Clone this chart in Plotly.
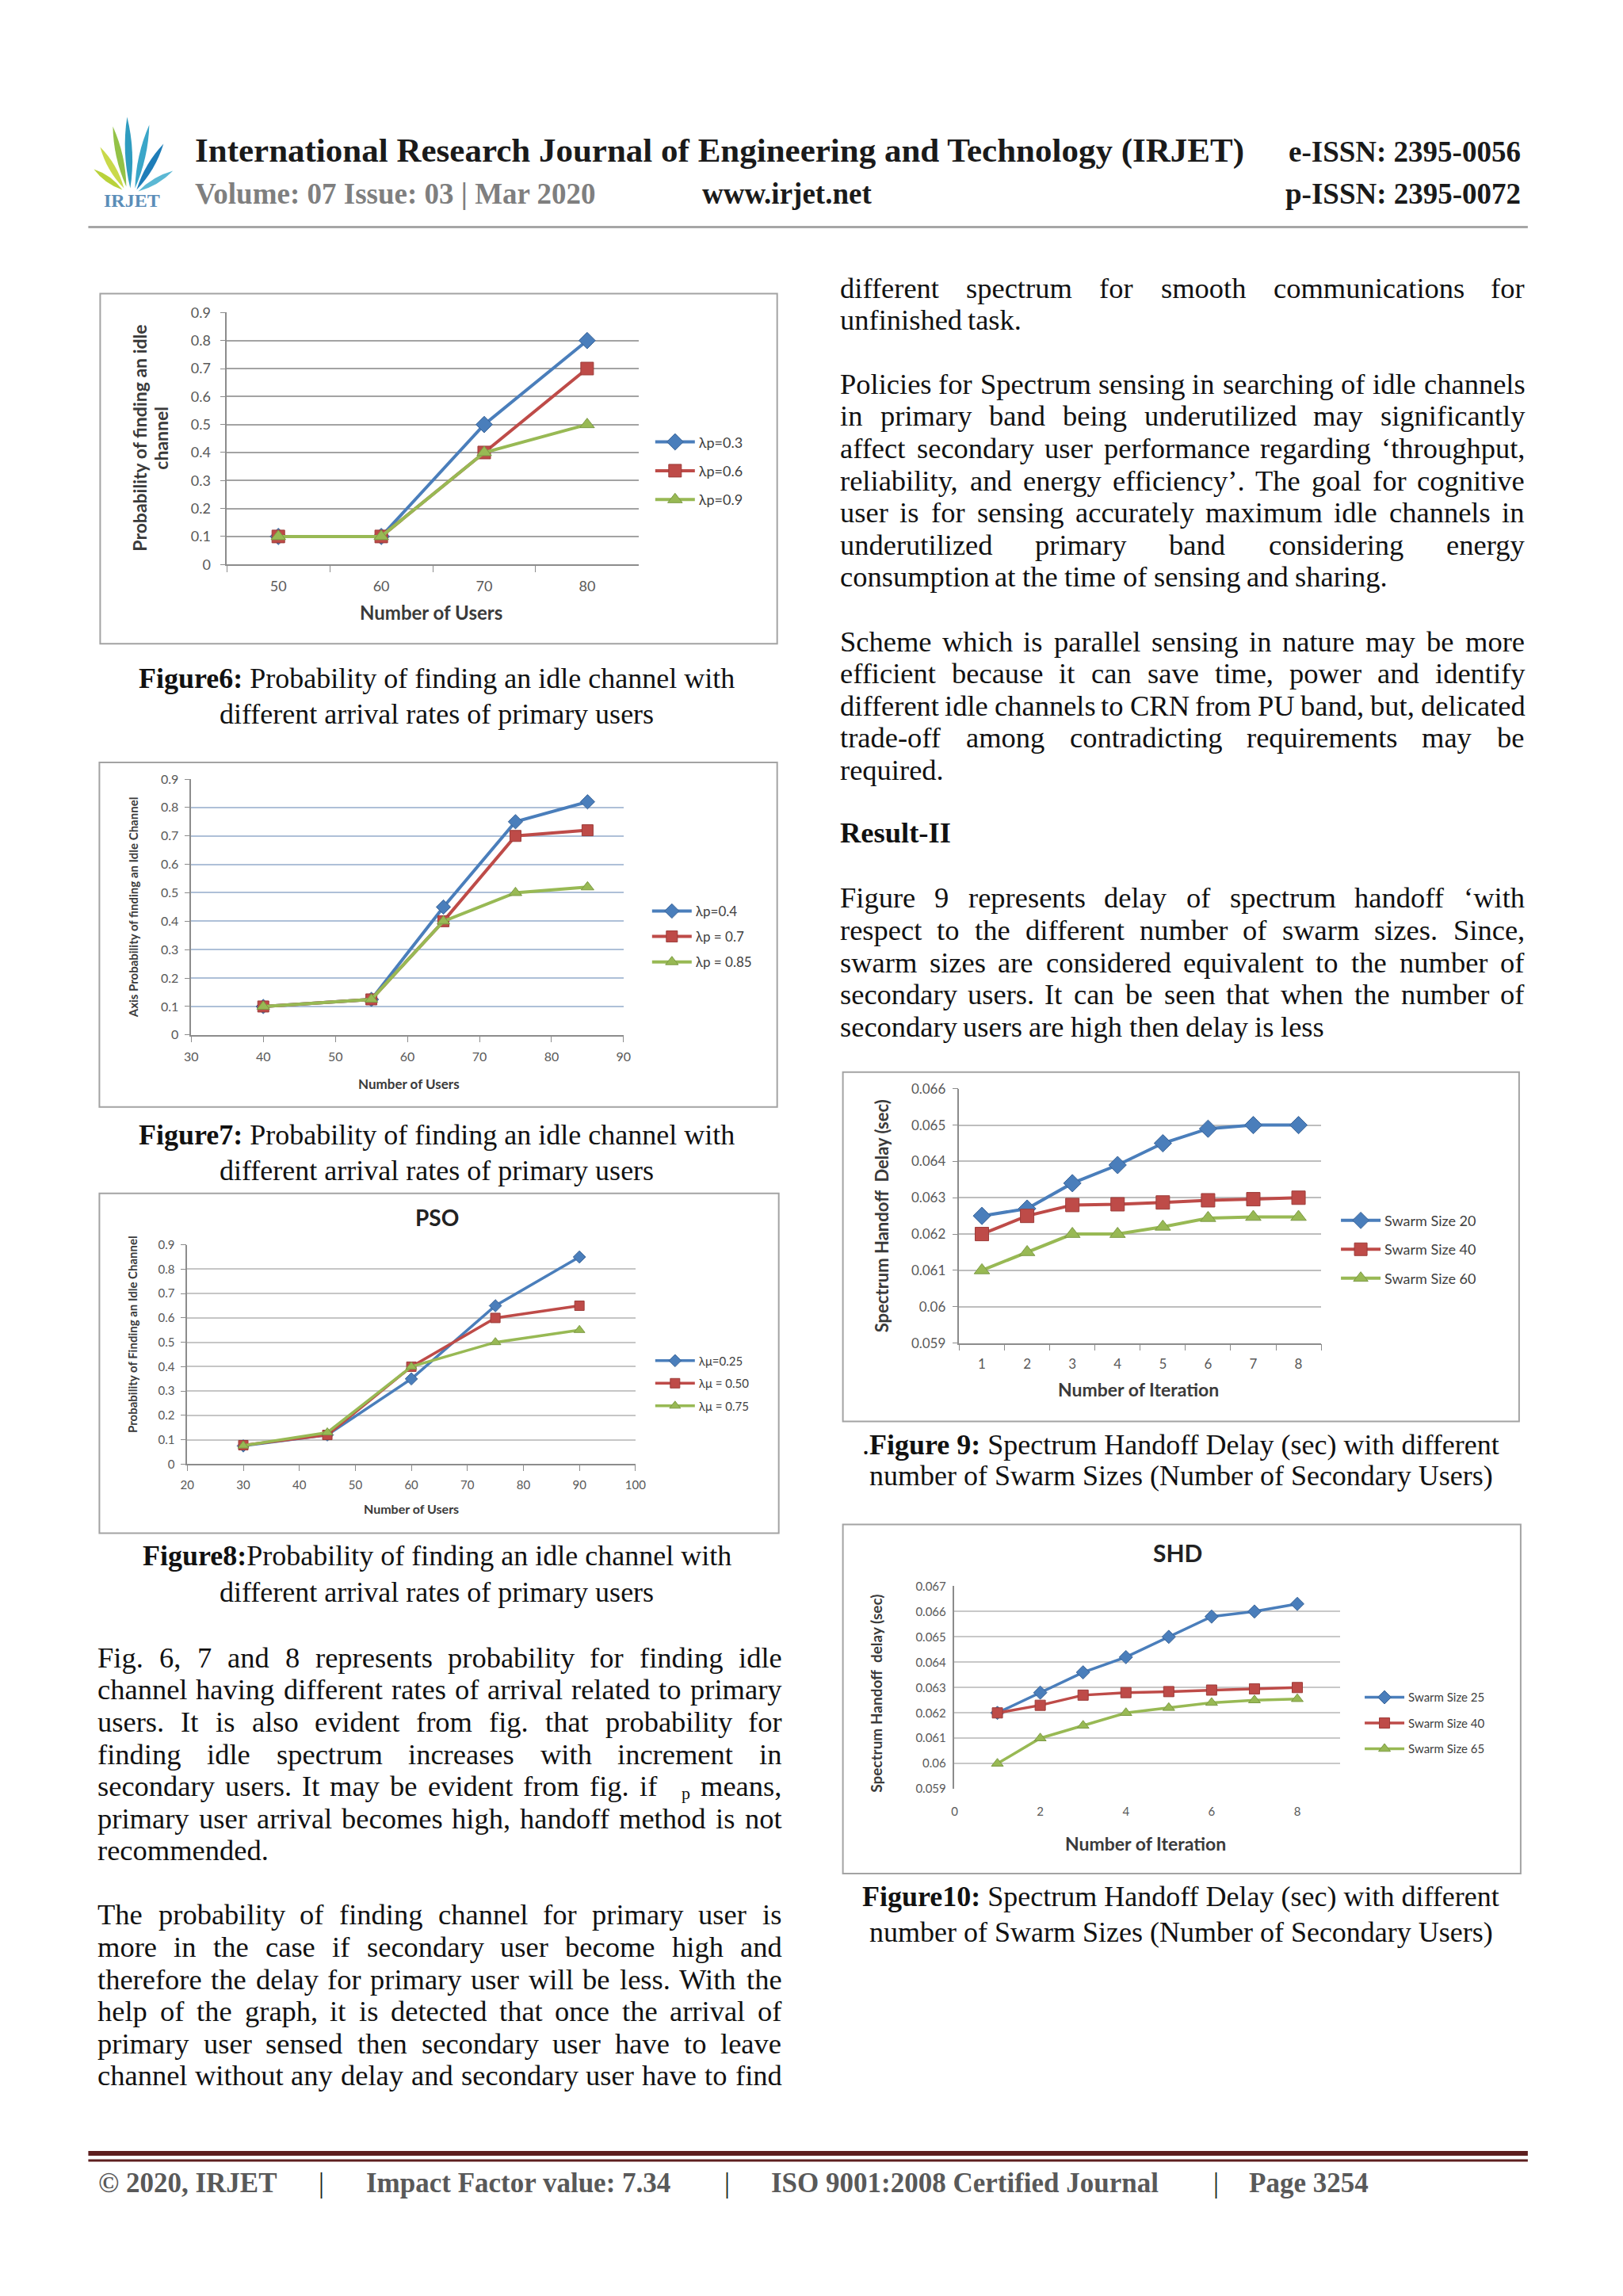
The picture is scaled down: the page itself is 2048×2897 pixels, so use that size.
import plotly.graph_objects as go

W, H = 2048, 2897
# page-coordinate helpers (pixel positions measured on the reference page)
def X(px): return (px * 1.01 - 20.7) / W
def Y(py): return 1 - (py * 1.007 - 20.5) / H

# ---------------- data ----------------
fig6_users = ["50", "60", "70", "80"]
fig6_s1 = [0.10, 0.10, 0.50, 0.80]
fig6_s2 = [0.10, 0.10, 0.40, 0.70]
fig6_s3 = [0.10, 0.10, 0.40, 0.50]
fig6_names = ["λp=0.3", "λp=0.6", "λp=0.9"]

fig7_users = [40, 55, 65, 75, 85]
fig7_s1 = [0.10, 0.125, 0.45, 0.75, 0.82]
fig7_s2 = [0.10, 0.125, 0.40, 0.70, 0.72]
fig7_s3 = [0.10, 0.125, 0.40, 0.50, 0.52]
fig7_names = ["λp=0.4", "λp = 0.7", "λp = 0.85"]

fig8_users = [30, 45, 60, 75, 90]
fig8_s1 = [0.075, 0.12, 0.35, 0.65, 0.85]
fig8_s2 = [0.078, 0.12, 0.40, 0.60, 0.65]
fig8_s3 = [0.076, 0.13, 0.40, 0.50, 0.55]
fig8_names = ["λμ=0.25", "λμ = 0.50", "λμ = 0.75"]

fig9_iter = ["1", "2", "3", "4", "5", "6", "7", "8"]
fig9_s1 = [0.0625, 0.0627, 0.0634, 0.0639, 0.0645, 0.0649, 0.0650, 0.0650]
fig9_s2 = [0.0620, 0.0625, 0.0628, 0.06282, 0.06287, 0.06293, 0.06296, 0.0630]
fig9_s3 = [0.0610, 0.0615, 0.0620, 0.0620, 0.0622, 0.06244, 0.06247, 0.06247]
fig9_names = ["Swarm Size 20", "Swarm Size 40", "Swarm Size 60"]

fig10_iter = [1, 2, 3, 4, 5, 6, 7, 8]
fig10_s1 = [0.0620, 0.0628, 0.0636, 0.0642, 0.0650, 0.0658, 0.0660, 0.0663]
fig10_s2 = [0.0620, 0.0623, 0.0627, 0.0628, 0.06284, 0.0629, 0.06295, 0.0630]
fig10_s3 = [0.0600, 0.0610, 0.0615, 0.0620, 0.0622, 0.0624, 0.0625, 0.06255]
fig10_names = ["Swarm Size 25", "Swarm Size 40", "Swarm Size 65"]

prob_ticks = [0, 0.1, 0.2, 0.3, 0.4, 0.5, 0.6, 0.7, 0.8, 0.9]
prob_ticktext = ["0", "0.1", "0.2", "0.3", "0.4", "0.5", "0.6", "0.7", "0.8", "0.9"]
fig9_yticks = [0.059, 0.060, 0.061, 0.062, 0.063, 0.064, 0.065, 0.066]
fig9_yticktext = ["0.059", "0.06", "0.061", "0.062", "0.063", "0.064", "0.065", "0.066"]
fig10_yticks = [0.059, 0.060, 0.061, 0.062, 0.063, 0.064, 0.065, 0.066, 0.067]
fig10_yticktext = ["0.059", "0.06", "0.061", "0.062", "0.063", "0.064", "0.065", "0.066", "0.067"]
fig7_xticks = [30, 40, 50, 60, 70, 80, 90]
fig8_xticks = [20, 30, 40, 50, 60, 70, 80, 90, 100]
fig10_xticks = [0, 2, 4, 6, 8]

# ---------------- styles ----------------
COLS = ["#4A7EBB", "#BE4B48", "#98B954"]
DCOLS = ["#3A6498", "#9C3C39", "#7C9A44"]
SYMS = ["diamond", "square", "triangle-up"]
CF = "Lato"
SERIF = "Liberation Serif"
TICKC = "#595959"

fig = go.Figure()

def add_series(ax, xs, series, names, leg, msize, lw):
    for k, (ys, nm) in enumerate(zip(series, names)):
        fig.add_trace(go.Scatter(
            x=xs, y=ys, name=nm, mode="lines+markers",
            xaxis="x" + ax, yaxis="y" + ax, legend=leg, legendgroup=leg + str(k),
            line=dict(color=COLS[k], width=lw),
            marker=dict(symbol=SYMS[k], size=msize, color=COLS[k],
                        line=dict(color=DCOLS[k], width=1))))

add_series("", fig6_users, [fig6_s1, fig6_s2, fig6_s3], fig6_names, "legend", 16, 4)
add_series("2", fig7_users, [fig7_s1, fig7_s2, fig7_s3], fig7_names, "legend2", 14, 4)
add_series("3", fig8_users, [fig8_s1, fig8_s2, fig8_s3], fig8_names, "legend3", 12, 3.5)
add_series("4", fig9_iter, [fig9_s1, fig9_s2, fig9_s3], fig9_names, "legend4", 17, 4)
add_series("5", fig10_iter, [fig10_s1, fig10_s2, fig10_s3], fig10_names, "legend5", 13, 3.5)

layout = dict(width=W, height=H, autosize=False, margin=dict(l=0, r=0, t=0, b=0),
              paper_bgcolor="white", plot_bgcolor="rgba(0,0,0,0)", showlegend=True,
              font=dict(family=SERIF, color="#111"))

def set_axes(ax, xd, yd, xconf, yconf, tsize, gridc):
    xk, yk = "xaxis" + ax, "yaxis" + ax
    base_x = dict(domain=[X(xd[0]), X(xd[1])], anchor="y" + ax, showgrid=False, zeroline=False,
                  showline=True, linecolor="#8C8C8C", linewidth=1.5,
                  tickfont=dict(family=CF, size=tsize, color=TICKC), fixedrange=True)
    base_y = dict(domain=[Y(yd[1]), Y(yd[0])], anchor="x" + ax, showgrid=True, gridcolor=gridc,
                  gridwidth=2, zeroline=False, showline=True, linecolor="#8C8C8C", linewidth=1.5,
                  ticks="outside", ticklen=7, tickcolor="#8C8C8C",
                  tickfont=dict(family=CF, size=tsize, color=TICKC), fixedrange=True)
    base_x.update(xconf)
    base_y.update(yconf)
    layout[xk] = base_x
    layout[yk] = base_y

set_axes("", (290, 810), (395, 713),
         dict(type="category", range=[-0.5, 3.5], tickson="boundaries", ticks="outside",
              ticklen=8, tickcolor="#8C8C8C", ticklabelstandoff=10),
         dict(range=[0, 0.9], tickvals=prob_ticks, ticktext=prob_ticktext, ticklabelstandoff=8),
         18, "#A3A3A3")
set_axes("2", (245, 791), (984, 1307),
         dict(range=[30, 90], tickvals=fig7_xticks, ticks="outside", ticklen=7, tickcolor="#8C8C8C",
              ticklabelstandoff=5),
         dict(range=[0, 0.9], tickvals=prob_ticks, ticktext=prob_ticktext, ticklabelstandoff=4),
         16, "#AEC0D8")
set_axes("3", (240, 806), (1572, 1849),
         dict(range=[20, 100], tickvals=fig8_xticks, ticks="outside", ticklen=7, tickcolor="#8C8C8C",
              ticklabelstandoff=5),
         dict(range=[0, 0.9], tickvals=prob_ticks, ticktext=prob_ticktext, ticklabelstandoff=4),
         15, "#C6C6C6")
set_axes("4", (1215, 1672), (1375, 1696),
         dict(type="category", range=[-0.5, 7.5], tickson="boundaries", ticks="outside",
              ticklen=8, tickcolor="#8C8C8C", ticklabelstandoff=10),
         dict(range=[0.059, 0.066], tickvals=fig9_yticks, ticktext=fig9_yticktext, ticklabelstandoff=5),
         17, "#BDBDBD")
set_axes("5", (1209, 1696), (2003, 2259),
         dict(range=[0, 9], tickvals=fig10_xticks, ticks="", showline=False, ticklabelstandoff=18),
         dict(range=[0.059, 0.067], tickvals=fig10_yticks, ticktext=fig10_yticktext, ticks="",
              ticklabelstandoff=6),
         15, "#C8C8C8")

def legend_cfg(xpx, ypx, fsize, gap):
    return dict(x=X(xpx), y=Y(ypx), xanchor="left", yanchor="top", xref="paper", yref="paper",
                font=dict(family=CF, size=fsize, color="#404040"), bgcolor="rgba(0,0,0,0)",
                borderwidth=0, tracegroupgap=gap, traceorder="grouped", itemwidth=50,
                orientation="v", itemclick=False, itemdoubleclick=False)

layout["legend"] = legend_cfg(826, 540, 18, 10)
layout["legend2"] = legend_cfg(822, 1133, 17, 7)
layout["legend3"] = legend_cfg(826, 1702, 15, 6)
layout["legend4"] = legend_cfg(1692, 1523, 18, 10)
layout["legend5"] = legend_cfg(1722, 2127, 15, 10)

shapes = []
annotations = []

def ann(x, y, text, size, color="#111", family=SERIF, xanchor="left", yanchor="middle", angle=0):
    annotations.append(dict(x=X(x), y=Y(y), xref="paper", yref="paper", text=text, showarrow=False,
                            xanchor=xanchor, yanchor=yanchor, textangle=angle,
                            font=dict(family=family, size=size, color=color)))

def rect(x0, y0, x1, y1, color="#A3A3A3", width=2):
    shapes.append(dict(type="rect", xref="paper", yref="paper", x0=X(x0), y0=Y(y1), x1=X(x1), y1=Y(y0),
                       line=dict(color=color, width=width), fillcolor="rgba(0,0,0,0)"))

def hline(x0, x1, y, color, width):
    shapes.append(dict(type="line", xref="paper", yref="paper", x0=X(x0), x1=X(x1), y0=Y(y), y1=Y(y),
                       line=dict(color=color, width=width)))

# chart frames
rect(130, 371, 985, 813)
rect(129, 963, 985, 1398)
rect(129, 1507, 987, 1936)
rect(1068, 1354, 1922, 1795)
rect(1068, 1925, 1924, 2366)

# chart titles and axis titles
ACOL = "#3A3A3A"
ann(548, 773, "<b>Number of Users</b>", 24, ACOL, CF, "center")
ann(180, 553, "<b>Probability of finding an idle</b>", 23, ACOL, CF, "center", angle=-90)
ann(207, 553, "<b>channel</b>", 23, ACOL, CF, "center", angle=-90)

ann(520, 1369, "<b>Number of Users</b>", 17, ACOL, CF, "center")
ann(172, 1146, "<b>Axis Probability of finding an Idle Channel</b>", 15, ACOL, CF, "center", angle=-90)

ann(555, 1537, "<b>PSO</b>", 28, "#222", CF, "center")
ann(523, 1905, "<b>Number of Users</b>", 16, ACOL, CF, "center")
ann(170, 1685, "<b>Probability of Finding an Idle Channel</b>", 15, ACOL, CF, "center", angle=-90)

ann(1441, 1754, "<b>Number of Iteration</b>", 23, ACOL, CF, "center")
ann(1117, 1536, "<b>Spectrum Handoff  Delay (sec)</b>", 22, ACOL, CF, "center", angle=-90)

ann(1491, 1961, "<b>SHD</b>", 30, "#222", CF, "center")
ann(1450, 2328, "<b>Number of Iteration</b>", 23, ACOL, CF, "center")
ann(1110, 2139, "<b>Spectrum Handoff  delay (sec)</b>", 19, ACOL, CF, "center", angle=-90)

# ---------------- page text ----------------
TR = {' ': 250, '!': 333, '(': 333, ')': 333, ',': 250, '-': 333, '.': 250, ':': 278, ';': 278,
      '‘': 333, '’': 333, "'": 180,
      'A': 722, 'B': 667, 'C': 667, 'D': 722, 'E': 611, 'F': 556, 'G': 722, 'H': 722, 'I': 333,
      'J': 389, 'K': 722, 'L': 611, 'M': 889, 'N': 722, 'O': 722, 'P': 556, 'Q': 722, 'R': 667,
      'S': 556, 'T': 611, 'U': 722, 'V': 722, 'W': 944, 'X': 722, 'Y': 722, 'Z': 611,
      'a': 444, 'b': 500, 'c': 444, 'd': 500, 'e': 444, 'f': 333, 'g': 500, 'h': 500, 'i': 278,
      'j': 278, 'k': 500, 'l': 278, 'm': 778, 'n': 500, 'o': 500, 'p': 500, 'q': 500, 'r': 333,
      's': 389, 't': 278, 'u': 500, 'v': 500, 'w': 722, 'x': 500, 'y': 500, 'z': 444}

BODY = 36.5
LH = 40.6
SCALE_X = 1.01

def wwidth(w, size):
    if w == "_p":
        return 0.75 * size
    return sum(TR.get(c, 500) for c in w) / 1000 * size / SCALE_X

def paragraph(lines, x0, x1, y0, size=BODY, justify_last=False):
    for i, line in enumerate(lines):
        words = line.split()
        y = y0 + i * LH
        last = (i == len(lines) - 1) and not justify_last
        ws = [wwidth(w, size) for w in words]
        if last or len(words) == 1:
            gap = 0.25 * size / SCALE_X
        else:
            gap = (x1 - x0 - sum(ws)) / (len(words) - 1)
        x = x0
        for w, wd in zip(words, ws):
            if w == "_p":
                ann(x + 0.45 * size, y + 9, "p", size * 0.6, "#111")
            else:
                ann(x, y, w, size, "#111")
            x += wd + gap

LX0, LX1 = 125, 988
RX0, RX1 = 1062, 1926

left_p1 = ["Fig. 6, 7 and 8 represents probability for finding idle",
           "channel having different rates of arrival related to primary",
           "users. It is also evident from fig. that probability for",
           "finding idle spectrum increases with increment in",
           "secondary users. It may be evident from fig. if _p means,",
           "primary user arrival becomes high, handoff method is not",
           "recommended."]
left_p2 = ["The probability of finding channel for primary user is",
           "more in the case if secondary user become high and",
           "therefore the delay for primary user will be less. With the",
           "help of the graph, it is detected that once the arrival of",
           "primary user sensed then secondary user have to leave",
           "channel without any delay and secondary user have to find"]
right_p0 = ["different spectrum for smooth communications for",
            "unfinished task."]
right_p1 = ["Policies for Spectrum sensing in searching of idle channels",
            "in primary band being underutilized may significantly",
            "affect secondary user performance regarding ‘throughput,",
            "reliability, and energy efficiency’. The goal for cognitive",
            "user is for sensing accurately maximum idle channels in",
            "underutilized primary band considering energy",
            "consumption at the time of sensing and sharing."]
right_p2 = ["Scheme which is parallel sensing in nature may be more",
            "efficient because it can save time, power and identify",
            "different idle channels to CRN from PU band, but, delicated",
            "trade-off among contradicting requirements may be",
            "required."]
right_p3 = ["Figure 9 represents delay of spectrum handoff ‘with",
            "respect to the different number of swarm sizes. Since,",
            "swarm sizes are considered equivalent to the number of",
            "secondary users. It can be seen that when the number of",
            "secondary users are high then delay is less"]

paragraph(left_p1, LX0, LX1, 2093)
paragraph(left_p2, LX0, LX1, 2093 + 8 * LH, justify_last=True)
paragraph(right_p0, RX0, RX1, 364)
paragraph(right_p1, RX0, RX1, 485)
paragraph(right_p2, RX0, RX1, 810)
ann(RX0, 1052, "<b>Result-II</b>", BODY, "#111")
paragraph(right_p3, RX0, RX1, 1134)

# captions
CAP = 36
ann(555, 857, "<b>Figure6:</b> Probability of finding an idle channel with", CAP, "#111", SERIF, "center")
ann(555, 902, "different arrival rates of primary users", CAP, "#111", SERIF, "center")
ann(555, 1433, "<b>Figure7:</b> Probability of finding an idle channel with", CAP, "#111", SERIF, "center")
ann(555, 1478, "different arrival rates of primary users", CAP, "#111", SERIF, "center")
ann(555, 1965, "<b>Figure8:</b>Probability of finding an idle channel with", CAP, "#111", SERIF, "center")
ann(555, 2011, "different arrival rates of primary users", CAP, "#111", SERIF, "center")
ann(1495, 1825, ".<b>Figure 9:</b> Spectrum Handoff Delay (sec) with different", CAP, "#111", SERIF, "center")
ann(1495, 1864, "number of Swarm Sizes (Number of Secondary Users)", CAP, "#111", SERIF, "center")
ann(1495, 2395, "<b>Figure10:</b> Spectrum Handoff Delay (sec) with different", CAP, "#111", SERIF, "center")
ann(1495, 2440, "number of Swarm Sizes (Number of Secondary Users)", CAP, "#111", SERIF, "center")

# ---------------- header ----------------
def leaf(bx, by, tx, ty, w, color):
    mx, my = (bx + tx) / 2, (by + ty) / 2
    dx, dy = tx - bx, ty - by
    L = (dx * dx + dy * dy) ** 0.5
    nx, ny = -dy / L, dx / L
    c1 = (mx + nx * w, my + ny * w)
    c2 = (mx - nx * w, my - ny * w)
    path = (f"M {X(bx)},{Y(by)} Q {X(c1[0])},{Y(c1[1])} {X(tx)},{Y(ty)} "
            f"Q {X(c2[0])},{Y(c2[1])} {X(bx)},{Y(by)} Z")
    shapes.append(dict(type="path", xref="paper", yref="paper", path=path,
                       fillcolor=color, line=dict(width=0)))

leaf(158, 240, 122, 214, 7, "#B9D23A")
leaf(160, 238, 130, 186, 8, "#C9D94A")
leaf(163, 236, 146, 160, 8, "#93C247")
leaf(168, 238, 164, 148, 9, "#2E9CC0")
leaf(174, 238, 192, 158, 8, "#3AA6C8")
leaf(176, 240, 210, 182, 8, "#1E7DB8")
leaf(178, 242, 222, 216, 7, "#5BB8D4")
ann(170, 254, "<b>IRJET</b>", 24, "#5B8DB8", SERIF, "center")

ann(248, 190, "<b>International Research Journal of Engineering and Technology (IRJET)</b>", 43, "#1A1A1A")
ann(1926, 192, "<b>e-ISSN: 2395-0056</b>", 37, "#1A1A1A", SERIF, "right")
ann(248, 245, "<b>Volume: 07 Issue: 03 | Mar 2020</b>", 37, "#7F7F7F")
ann(888, 245, "<b>www.irjet.net</b>", 37, "#1A1A1A")
ann(1926, 245, "<b>p-ISSN: 2395-0072</b>", 37, "#1A1A1A", SERIF, "right")
hline(115, 1933, 287, "#A6A6A6", 3)

# ---------------- footer ----------------
hline(115, 1933, 2719, "#5E1F1F", 6)
hline(115, 1933, 2728, "#5E1F1F", 3)
FC = "#595959"
ann(126, 2757, "<b>© 2020, IRJET</b>", 35, FC)
ann(404, 2757, "|", 35, "#222")
ann(464, 2757, "<b>Impact Factor value: 7.34</b>", 35, FC)
ann(916, 2757, "|", 35, "#222")
ann(975, 2757, "<b>ISO 9001:2008 Certified Journal</b>", 35, FC)
ann(1534, 2757, "|", 35, "#222")
ann(1579, 2757, "<b>Page 3254</b>", 35, FC)

layout["shapes"] = shapes
layout["annotations"] = annotations
fig.update_layout(**layout)
fig.write_html("out.html")
